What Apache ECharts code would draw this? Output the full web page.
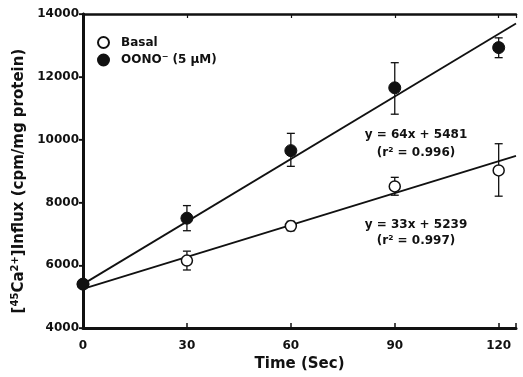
<!DOCTYPE html>
<html>
<head>
<meta charset="utf-8">
<script src="https://cdn.jsdelivr.net/npm/echarts@6/dist/echarts.min.js"></script>
<style>
  html, body { margin: 0; padding: 0; background: #fff; }
  #chart { width: 523px; height: 377px; }
</style>
</head>
<body>
<div id="chart"></div>
<script>
// time points (sec)
const times = [0, 30, 60, 90, 120];

// basal influx, mean and error bounds
const basalMean = [5400, 6150, 7250, 8510, 9020];
const basalLow  = [5400, 5850, 7100, 8230, 8200];
const basalHigh = [5400, 6450, 7400, 8800, 9870];

// OONO- (5 uM), mean and error bounds
const oonoMean = [5400, 7500, 9650, 11650, 12930];
const oonoLow  = [5400, 7100, 9150, 10810, 12610];
const oonoHigh = [5400, 7900, 10200, 12450, 13240];

// regression lines as drawn (x ends, y ends)
const fitX = [0, 125];
const oonoFit = [5400, 13700];
const basalFit = [5250, 9480];

const yTicks = [4000, 6000, 8000, 10000, 12000, 14000];
const xTicks = [0, 30, 60, 90, 120];

const FONT = "DejaVu Sans";
const chart = echarts.init(document.getElementById("chart"));

const zip = (xs, ys) => xs.map((x, i) => [x, ys[i]]);
const errData = (lo, hi) => times.map((t, i) => [t, lo[i], hi[i]]);

function errorBar(params, api) {
  const x = api.value(0);
  const lo = api.coord([x, api.value(1)]);
  const hi = api.coord([x, api.value(2)]);
  const cap = 4;
  const style = { stroke: "#111", lineWidth: 1.3 };
  return {
    type: "group",
    children: [
      { type: "line", shape: { x1: lo[0], y1: lo[1], x2: hi[0], y2: hi[1] }, style },
      { type: "line", shape: { x1: lo[0] - cap, y1: lo[1], x2: lo[0] + cap, y2: lo[1] }, style },
      { type: "line", shape: { x1: hi[0] - cap, y1: hi[1], x2: hi[0] + cap, y2: hi[1] }, style }
    ]
  };
}

const labelStyle = { color: "#111", fontFamily: FONT, fontWeight: "bold", fontSize: 12 };
const note = (text, y) => ({
  type: "text", x: 416, y,
  style: { text, fill: "#111", font: "bold 12px '" + FONT + "'", textAlign: "center", textVerticalAlign: "middle" }
});

const option = {
  backgroundColor: "#fff",
  animation: false,
  textStyle: { fontFamily: FONT },
  grid: { left: 83, right: 7, top: 14, bottom: 46 },
  legend: {
    orient: "vertical",
    left: 92,
    top: 31,
    itemWidth: 11,
    itemHeight: 11,
    itemGap: 4,
    data: ["Basal", "OONO"],
    formatter: (name) => name === "OONO" ? "{t|OONO}{s|−}{t| (5 μM)}" : "{t|Basal}",
    textStyle: {
      padding: [0, 0, 0, 7],
      rich: {
        t: { fontFamily: FONT, fontWeight: "bold", fontSize: 12, color: "#111" },
        s: { fontFamily: FONT, fontWeight: "bold", fontSize: 8, color: "#111", verticalAlign: "top", padding: [0, 0, 6, 0] }
      }
    }
  },
  xAxis: [
    {
      type: "value", min: 0, max: 125, interval: 30,
      name: "Time (Sec)", nameLocation: "middle", nameGap: 21,
      nameTextStyle: { color: "#111", fontFamily: FONT, fontWeight: "bold", fontSize: 15 },
      axisLine: { lineStyle: { color: "#111", width: 3 } },
      axisTick: { inside: true, length: 5, lineStyle: { color: "#111", width: 1.5 } },
      axisLabel: Object.assign({ margin: 12, formatter: (v) => xTicks.includes(v) ? String(v) : "" }, labelStyle),
      splitLine: { show: false }
    },
    {
      type: "value", min: 0, max: 125, interval: 30, position: "top",
      axisLine: { lineStyle: { color: "#111", width: 2.5 } },
      axisTick: { inside: true, length: 4, lineStyle: { color: "#111", width: 1.2 } },
      axisLabel: { show: false },
      splitLine: { show: false }
    }
  ],
  yAxis: [
    {
      type: "value", min: 4000, max: 14000, interval: 2000,
      name: "{b|[}{s|45}{b|Ca}{s|2+}{b|]Influx (cpm/mg protein)}",
      nameLocation: "middle", nameGap: 51, nameRotate: 90,
      nameTextStyle: {
        padding: [0, 20, 0, 0],
        rich: {
          b: { fontFamily: FONT, fontWeight: "bold", fontSize: 15, color: "#111" },
          s: { fontFamily: FONT, fontWeight: "bold", fontSize: 10, color: "#111", verticalAlign: "top", padding: [0, 0, 7, 0] }
        }
      },
      axisLine: { lineStyle: { color: "#111", width: 3 } },
      axisTick: { inside: false, length: 4, lineStyle: { color: "#111", width: 1.5 } },
      axisLabel: Object.assign({ margin: 4, formatter: (v) => yTicks.includes(v) ? String(v) : "" }, labelStyle),
      splitLine: { show: false }
    },
    {
      type: "value", min: 4000, max: 14000, interval: 2000, position: "right",
      axisLine: { lineStyle: { color: "#111", width: 2.5 } },
      axisTick: { inside: true, length: 4, lineStyle: { color: "#111", width: 1.2 } },
      axisLabel: { show: false },
      splitLine: { show: false }
    }
  ],
  graphic: [
    note("y = 64x + 5481", 135),
    note("(r² = 0.996)", 153),
    note("y = 33x + 5239", 225),
    note("(r² = 0.997)", 241)
  ],
  series: [
    {
      name: "oonoFit", type: "line", data: zip(fitX, oonoFit), showSymbol: false,
      lineStyle: { color: "#111", width: 1.8 }, z: 2, silent: true
    },
    {
      name: "basalFit", type: "line", data: zip(fitX, basalFit), showSymbol: false,
      lineStyle: { color: "#111", width: 1.8 }, z: 2, silent: true
    },
    { name: "oonoErr", type: "custom", renderItem: errorBar, data: errData(oonoLow, oonoHigh), z: 3 },
    { name: "basalErr", type: "custom", renderItem: errorBar, data: errData(basalLow, basalHigh), z: 3 },
    {
      name: "Basal", type: "scatter", data: zip(times, basalMean), symbol: "circle", symbolSize: 11,
      itemStyle: { color: "#fff", borderColor: "#111", borderWidth: 1.5, opacity: 1 }, z: 4
    },
    {
      name: "OONO", type: "scatter", data: zip(times, oonoMean), symbol: "circle", symbolSize: 12,
      itemStyle: { color: "#111", borderColor: "#111", borderWidth: 1, opacity: 1 }, z: 5
    }
  ]
};

chart.setOption(option);
</script>
</body>
</html>
